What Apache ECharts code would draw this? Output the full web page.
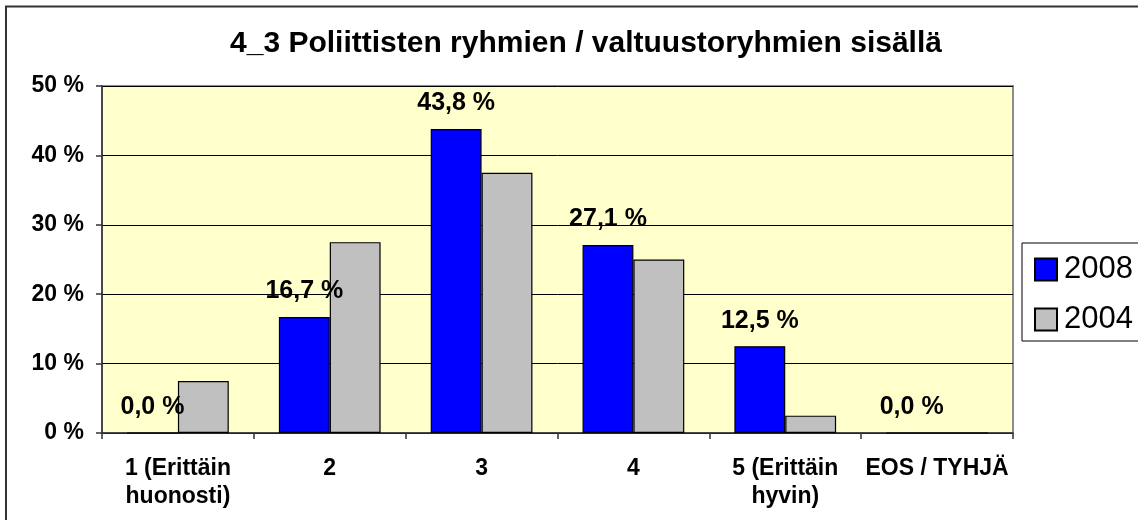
<!DOCTYPE html>
<html>
<head>
<meta charset="utf-8">
<script src="https://cdn.jsdelivr.net/npm/echarts@6/dist/echarts.min.js"></script>
<style>
html,body{margin:0;padding:0;background:#fff;}
#chart{width:1138px;height:520px;}
</style>
</head>
<body>
<div id="chart"></div>
<script>
const titleText = '4_3 Poliittisten ryhmien / valtuustoryhmien sisällä';
const categories = ['1 (Erittäin\nhuonosti)', '2', '3', '4', '5 (Erittäin\nhyvin)', 'EOS / TYHJÄ'];
const seriesNames = ['2008', '2004'];
const values2008 = [0.0, 16.7, 43.8, 27.1, 12.5, 0.0];
const values2004 = [7.5, 27.5, 37.5, 25.0, 2.5, 0.0];
const yTicks = { min: 0, max: 50, interval: 10 };

const FONT = "'Liberation Sans', Arial, sans-serif";
const chart = echarts.init(document.getElementById('chart'), null, { renderer: 'canvas' });

const fmtPct = v => v.toFixed(1).replace('.', ',') + ' %';

chart.setOption({
  animation: false,
  backgroundColor: '#ffffff',
  textStyle: { fontFamily: FONT },
  title: {
    text: titleText,
    left: 586,
    top: 28,
    textAlign: 'center',
    padding: 0,
    textStyle: { fontFamily: FONT, fontSize: 30, fontWeight: 'bold', color: '#000', lineHeight: 32 }
  },
  graphic: [{
    type: 'rect',
    shape: { x: 6, y: 6.5, width: 1300, height: 700 },
    style: { fill: 'none', stroke: '#333333', lineWidth: 2 },
    silent: true,
    z: 100
  }],
  legend: {
    data: seriesNames,
    orient: 'vertical',
    left: 1022,
    top: 243,
    padding: [11, 40, 6, 12],
    itemGap: 19,
    itemWidth: 22,
    itemHeight: 22,
    icon: 'rect',
    borderColor: '#000',
    borderWidth: 1,
    backgroundColor: '#fff',
    textStyle: { fontFamily: FONT, fontSize: 31, color: '#000', lineHeight: 30, padding: [0, 0, 0, 2] }
  },
  grid: {
    left: 102,
    right: 125,
    top: 86,
    bottom: 87,
    show: true,
    backgroundColor: '#FFFFCC',
    borderColor: '#8c8c8c',
    borderWidth: 2,
    containLabel: false
  },
  xAxis: {
    type: 'category',
    data: categories,
    axisLine: { show: true, lineStyle: { color: '#333', width: 1.5 } },
    axisTick: { show: true, length: 6, lineStyle: { color: '#333', width: 1.5 } },
    axisLabel: {
      interval: 0,
      margin: 22,
      fontFamily: FONT,
      fontSize: 23,
      fontWeight: 'bold',
      color: '#000',
      lineHeight: 28
    }
  },
  yAxis: {
    type: 'value',
    min: yTicks.min,
    max: yTicks.max,
    interval: yTicks.interval,
    axisLine: { show: true, lineStyle: { color: '#333', width: 1.5 } },
    axisTick: { show: true, length: 6, lineStyle: { color: '#333', width: 1.5 } },
    splitLine: { show: true, lineStyle: { color: '#000', width: 1 } },
    axisLabel: {
      margin: 18,
      formatter: '{value} %',
      fontFamily: FONT,
      fontSize: 23,
      fontWeight: 'bold',
      color: '#000'
    }
  },
  series: [
    {
      name: seriesNames[0],
      type: 'bar',
      data: values2008,
      barGap: '0%',
      barCategoryGap: '33%',
      itemStyle: { color: '#0000FF', borderColor: '#000', borderWidth: 1.2 },
      label: {
        show: true,
        position: 'top',
        distance: 13,
        formatter: p => fmtPct(p.value),
        fontFamily: FONT,
        fontSize: 25,
        fontWeight: 'bold',
        color: '#000'
      }
    },
    {
      name: seriesNames[1],
      type: 'bar',
      data: values2004,
      barGap: '0%',
      barCategoryGap: '33%',
      itemStyle: { color: '#C0C0C0', borderColor: '#000', borderWidth: 1.2 }
    }
  ]
});
</script>
</body>
</html>
